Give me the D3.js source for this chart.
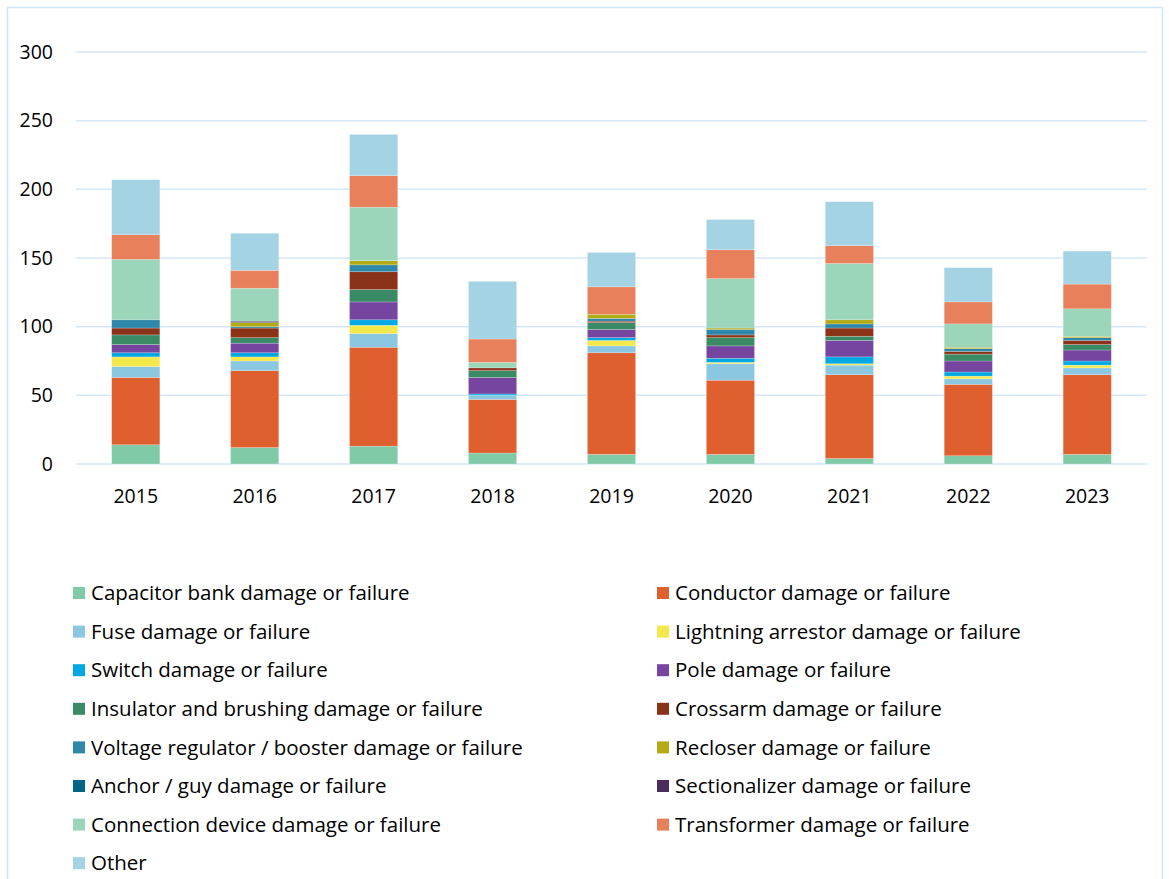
<!DOCTYPE html>
<html lang="en">
<head>
    <meta charset="UTF-8">
    <script src="https://d3js.org/d3.v7.min.js"></script>
    <title>index</title>
    <style>
        body { margin: 0; background: #fff; }
        text { font-family: "Open Sans", Lato, sans-serif; fill: #000; }
    </style>
</head>
<body>
    <div id="chart"></div>
    <script>
        // years on the x axis
        var years = ['2015', '2016', '2017', '2018', '2019', '2020', '2021', '2022', '2023'];

        // series, bottom of the stack first
        var capacitor   = [14, 12, 13, 8, 7, 7, 4, 6, 7];
        var conductor   = [49, 56, 72, 39, 74, 54, 61, 52, 58];
        var fuse        = [8, 7, 10, 3, 5, 12, 7, 4, 5];
        var lightning   = [7, 3, 6, 0, 4, 1, 1, 2, 2];
        var switchDmg   = [3, 3, 4, 1, 2, 3, 5, 3, 3];
        var pole        = [6, 7, 13, 12, 6, 9, 12, 8, 8];
        var insulator   = [7, 4, 9, 5, 5, 6, 3, 5, 4];
        var crossarm    = [5, 7, 13, 2, 1, 2, 6, 2, 3];
        var regulator   = [6, 1, 5, 0, 2, 4, 3, 2, 2];
        var recloser    = [0, 3, 3, 0, 3, 1, 3, 1, 1];
        var anchor      = [0, 0, 0, 0, 0, 0, 0, 0, 0];
        var sectional   = [0, 1, 0, 0, 0, 0, 0, 0, 0];
        var connection  = [44, 24, 39, 4, 0, 36, 41, 17, 20];
        var transformer = [18, 13, 23, 17, 20, 21, 13, 16, 18];
        var other       = [40, 27, 30, 42, 25, 22, 32, 25, 24];

        var seriesNames = [
            'Capacitor bank damage or failure', 'Conductor damage or failure',
            'Fuse damage or failure', 'Lightning arrestor damage or failure',
            'Switch damage or failure', 'Pole damage or failure',
            'Insulator and brushing damage or failure', 'Crossarm damage or failure',
            'Voltage regulator / booster damage or failure', 'Recloser damage or failure',
            'Anchor / guy damage or failure', 'Sectionalizer damage or failure',
            'Connection device damage or failure', 'Transformer damage or failure',
            'Other'
        ];
        var seriesValues = [capacitor, conductor, fuse, lightning, switchDmg, pole, insulator,
            crossarm, regulator, recloser, anchor, sectional, connection, transformer, other];
        var seriesColors = ['#80caa7', '#e05f2f', '#8bc7e0', '#f5e84a', '#00a9e4', '#7645a0',
            '#3b8a66', '#8b3318', '#2f87a9', '#b3ab13', '#026684', '#4a2c5f', '#9bd5ba',
            '#e8805c', '#a4d3e4'];
        var yTicks = [0, 50, 100, 150, 200, 250, 300];

        var width = 1169, height = 879;
        var plotLeft = 76, plotRight = 1147, plotTop = 52, plotBottom = 464;

        var table = years.map(function(yr, i) {
            var row = { year: yr };
            seriesNames.forEach(function(n, k) { row[n] = seriesValues[k][i]; });
            return row;
        });

        var svg = d3.select('#chart').append('svg')
            .attr('width', width).attr('height', height);

        svg.append('rect')
            .attr('x', 7.5).attr('y', 7.5)
            .attr('width', 1155).attr('height', 900)
            .attr('fill', 'none').attr('stroke', '#cfe4f6').attr('stroke-width', 1.5);

        var x = d3.scaleBand().domain(years).range([plotLeft, plotRight]).paddingInner(0.595).paddingOuter(0.3);
        var y = d3.scaleLinear().domain([0, 300]).range([plotBottom, plotTop]);

        svg.append('g').selectAll('line')
            .data(yTicks)
            .enter().append('line')
                .attr('x1', plotLeft).attr('x2', plotRight)
                .attr('y1', function(d) { return y(d); })
                .attr('y2', function(d) { return y(d); })
                .attr('stroke', '#d6e7f7').attr('stroke-width', 1.5);

        svg.append('g').selectAll('text')
            .data(yTicks)
            .enter().append('text')
                .attr('x', 53).attr('y', function(d) { return y(d); })
                .attr('dy', '0.35em').attr('text-anchor', 'end')
                .style('font-size', '19.5px')
                .text(function(d) { return d; });

        svg.append('g').selectAll('text')
            .data(years)
            .enter().append('text')
                .attr('x', function(d) { return x(d) + x.bandwidth() / 2; })
                .attr('y', 496).attr('dy', '0.35em').attr('text-anchor', 'middle')
                .style('font-size', '19.5px')
                .text(function(d) { return d; });

        var stack = d3.stack().keys(seriesNames);
        var layers = stack(table);

        svg.append('g').selectAll('g')
            .data(layers)
            .enter().append('g')
                .attr('fill', function(d, i) { return seriesColors[i]; })
            .selectAll('rect')
            .data(function(d) { return d; })
            .enter().append('rect')
                .attr('x', function(d) { return x(d.data.year); })
                .attr('y', function(d) { return y(d[1]); })
                .attr('width', x.bandwidth())
                .attr('height', function(d) { return y(d[0]) - y(d[1]); })
                .attr('stroke', '#ffffff').attr('stroke-opacity', 0.35).attr('stroke-width', 0.6);

        // legend, two columns in row order
        var legend = svg.append('g').selectAll('g')
            .data(seriesNames)
            .enter().append('g')
                .attr('transform', function(d, i) {
                    var col = i % 2, row = Math.floor(i / 2);
                    return 'translate(' + (col ? 657 : 73) + ',' + (593 + row * 38.6) + ')';
                });

        legend.append('rect')
            .attr('x', 0).attr('y', -6).attr('width', 12).attr('height', 12)
            .attr('fill', function(d, i) { return seriesColors[i]; });

        legend.append('text')
            .attr('x', 18).attr('dy', '0.35em')
            .style('font-size', '20.5px')
            .text(function(d) { return d; });
    </script>
</body>
</html>
